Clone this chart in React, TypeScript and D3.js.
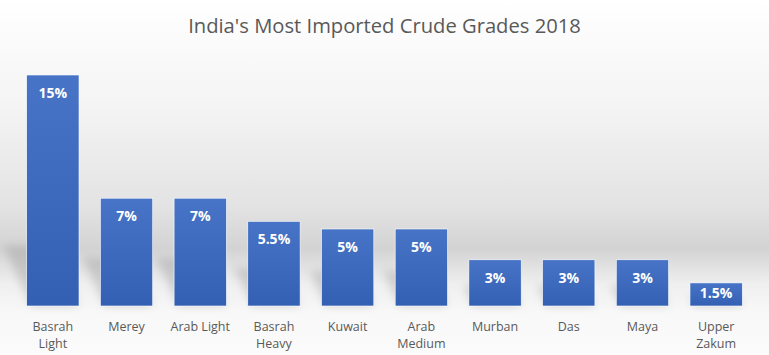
import React from "react";
import * as d3 from "d3";

const categories: string[][] = [
  ["Basrah", "Light"],
  ["Merey"],
  ["Arab Light"],
  ["Basrah", "Heavy"],
  ["Kuwait"],
  ["Arab", "Medium"],
  ["Murban"],
  ["Das"],
  ["Maya"],
  ["Upper", "Zakum"],
];
const values: number[] = [15, 7, 7, 5.5, 5, 5, 3, 3, 3, 1.5];
const valueLabels: string[] = ["15%", "7%", "7%", "5.5%", "5%", "5%", "3%", "3%", "3%", "1.5%"];

const W = 769;
const H = 355;
const FONT = "'Open Sans', 'Noto Sans', 'Liberation Sans', sans-serif";

export default function App() {
  const keys = categories.map((c) => c.join(" "));
  const x = d3.scaleBand<string>().domain(keys).range([16, 753]).paddingInner(0.29).paddingOuter(0.145);
  const y = d3.scaleLinear().domain([0, 15]).range([306, 75]);
  const bw = x.bandwidth();
  const base = y(0);

  return (
    <svg width={W} height={H} style={{ position: "absolute", left: 0, top: 0 }}>
      <defs>
        <linearGradient id="bg" x1="0" y1="0" x2="0" y2="1">
          <stop offset="0" stopColor="#ffffff" />
          <stop offset="0.3" stopColor="#f4f4f4" />
          <stop offset="0.58" stopColor="#e3e3e3" />
          <stop offset="0.7" stopColor="#d3d3d3" />
          <stop offset="0.8" stopColor="#efefef" />
          <stop offset="0.88" stopColor="#f8f8f8" />
          <stop offset="1" stopColor="#fbfbfb" />
        </linearGradient>
        <linearGradient id="bar" x1="0" y1="0" x2="0" y2="1">
          <stop offset="0" stopColor="#4774c6" />
          <stop offset="1" stopColor="#3360b2" />
        </linearGradient>
        <filter id="blur" x="-50%" y="-50%" width="200%" height="200%">
          <feGaussianBlur stdDeviation="4" />
        </filter>
      </defs>
      <rect x={0} y={0} width={W} height={H} fill="url(#bg)" />
      <text x={384.5} y={33} textAnchor="middle" fontFamily={FONT} fontSize={20.2} fill="#595959">
        India's Most Imported Crude Grades 2018
      </text>
      {keys.map((k, i) => {
        const x0 = x(k)!;
        const top = y(values[i]);
        const h = base - top;
        const t = Math.min(h * 0.45, 60);
        const s = t * 0.45;
        const pts = [
          [x0 + 4, base],
          [x0 + bw, base],
          [x0 + bw - s, base - t],
          [x0 - s + 4, base - t],
        ]
          .map((p) => p.join(","))
          .join(" ");
        return (
          <polygon key={"s" + k} points={pts} fill="#8a8a8a" opacity={0.32} filter="url(#blur)" />
        );
      })}
      {keys.map((k, i) => {
        const x0 = x(k)!;
        const top = y(values[i]);
        return (
          <g key={k}>
            <rect x={x0} y={top} width={bw} height={base - top} fill="url(#bar)" stroke="#ffffff" strokeWidth={0.6} />
            <text
              x={x0 + bw / 2}
              y={Math.min(top + 23, base - 8)}
              textAnchor="middle"
              fontFamily={FONT}
              fontWeight="bold"
              fontSize={14}
              fill="#ffffff"
            >
              {valueLabels[i]}
            </text>
            {categories[i].map((line, j) => (
              <text
                key={j}
                x={x0 + bw / 2}
                y={331 + j * 17}
                textAnchor="middle"
                fontFamily={FONT}
                fontSize={12.5}
                fill="#595959"
              >
                {line}
              </text>
            ))}
          </g>
        );
      })}
    </svg>
  );
}
